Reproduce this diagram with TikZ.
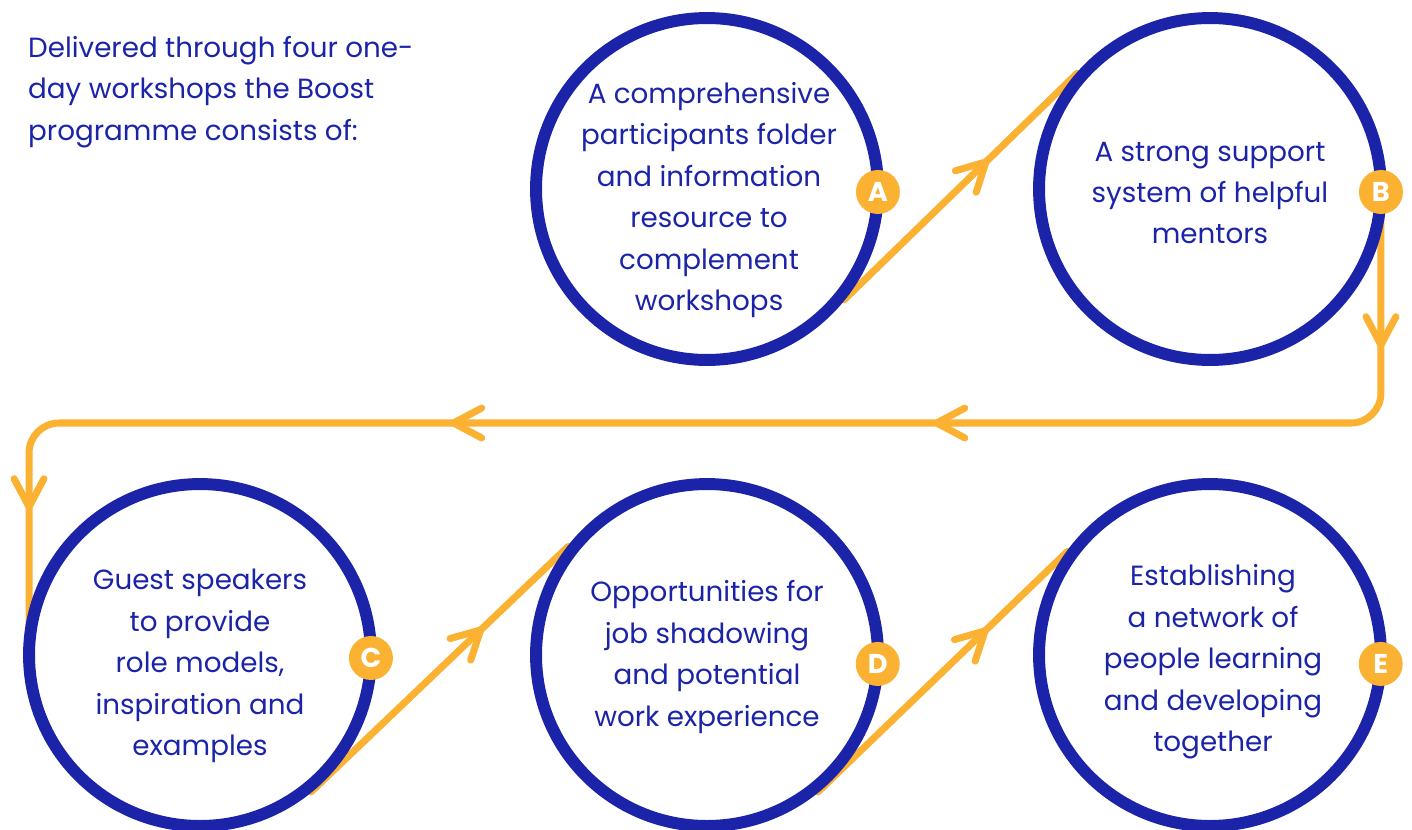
\documentclass[tikz,border=0pt]{standalone}
\usepackage{fontspec}
\setmainfont{Poppins}
\usetikzlibrary{arrows.meta,decorations.markings}

\definecolor{boostblue}{HTML}{1B24A8}
\definecolor{boostorange}{HTML}{FBB131}

\pgfdeclarelayer{bg}
\pgfsetlayers{bg,main}

\tikzset{
  ring/.style={circle, draw=boostblue, line width=6.8pt, minimum size=6.84cm, inner sep=0pt, outer sep=0pt},
  badge/.style={circle, fill=boostorange, minimum size=0.88cm, inner sep=0pt, text=white, font=\bfseries\fontsize{15.5}{15.5}\selectfont},
  blurb/.style={align=center, text=boostblue, font=\fontsize{15.8}{23.6}\selectfont},
  conn/.style={draw=boostorange, line width=4pt, line cap=round, line join=round},
  barb/.tip={Straight Barb[length=16pt, width=17pt, round]},
  midarrow/.style={postaction={decorate}, decoration={markings, mark=at position #1 with {\arrow{barb}}}},
  loopmarks/.style={postaction={decorate}, decoration={markings,
      mark=at position 89pt with {\arrow{barb}},
      mark=at position 379pt with {\arrow{barb}},
      mark=at position 654pt with {\arrow{barb}},
      mark=at position 936pt with {\arrow{barb}}}},
}

\begin{document}
\begin{tikzpicture}[x=0.02cm, y=-0.02cm]
\useasboundingbox (0,0) rectangle (1412,829);

% intro text
\node[blurb, align=left, anchor=west] (intro) at (22,92) {Delivered through four one-\\day workshops the Boost\\programme consists of:};

% the five rings
\node[ring] (A) at (707,189) {};
\node[ring] (B) at (1210,189) {};
\node[ring] (C) at (200,655) {};
\node[ring] (D) at (707,655) {};
\node[ring] (E) at (1210,655) {};

\node[blurb] (tA) at (709,200) {A comprehensive\\participants folder\\and information\\resource to\\complement\\workshops};
\node[blurb] (tB) at (1210,193) {A strong support\\system of helpful\\mentors};
\node[blurb] (tC) at (200,666) {Guest speakers\\to provide\\role models,\\inspiration and\\examples};
\node[blurb] (tD) at (707,657) {Opportunities for\\job shadowing\\and potential\\work experience};
\node[blurb] (tE) at (1213,662) {Establishing\\a network of\\people learning\\and developing\\together};

% letters
\node[badge] (bA) at (A.-1) {A};
\node[badge] (bB) at (B.-1) {B};
\node[badge] (bC) at (C.-1) {C};
\node[badge] (bD) at (D.-3) {D};
\node[badge] (bE) at (E.-3) {E};

% orange flow under the rings
\begin{pgfonlayer}{bg}
\draw[conn, midarrow=0.62] ([shift={(-39:3pt)}]A.-39) -- ([shift={(139:3pt)}]B.139);
\draw[conn, midarrow=0.67] ([shift={(-51:3pt)}]C.-51) -- ([shift={(142:3pt)}]D.142);
\draw[conn, midarrow=0.68] ([shift={(-51:3pt)}]D.-51) -- ([shift={(144:3pt)}]E.144);
\coordinate (turnR) at (bB |- 0,423);
\coordinate (turnL) at (C.west |- turnR);
\draw[conn, rounded corners=0.6cm, loopmarks] (bB.center) -- (turnR) -- (turnL) -- (C.west);
\end{pgfonlayer}
\end{tikzpicture}
\end{document}
